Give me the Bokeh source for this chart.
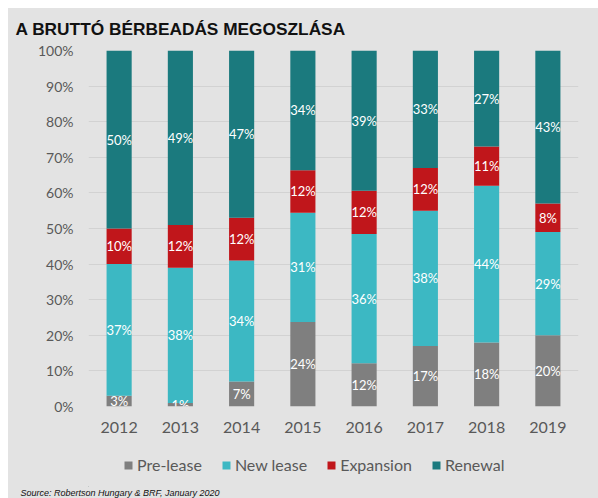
from bokeh.plotting import figure
from bokeh.layouts import column
from bokeh.models import (ColumnDataSource, FactorRange, Range1d, Legend, LegendItem,
                          Title, PrintfTickFormatter, FixedTicker)
from bokeh.core.properties import value
from bokeh.embed import file_html
from bokeh.resources import INLINE

years = ["2012", "2013", "2014", "2015", "2016", "2017", "2018", "2019"]
pre_lease = [3, 1, 7, 24, 12, 17, 18, 20]
new_lease = [37, 38, 34, 31, 36, 38, 44, 29]
expansion = [10, 12, 12, 12, 12, 12, 11, 8]
renewal = [50, 49, 47, 34, 39, 33, 27, 43]
series_names = ["Pre-lease", "New lease", "Expansion", "Renewal"]
colors = ["#7f7f7f", "#3cb8c3", "#c0161b", "#1b7a7e"]
title_text = "A BRUTTÓ BÉRBEADÁS MEGOSZLÁSA"
source_text = "Source: Robertson Hungary & BRF, January 2020"

series = [pre_lease, new_lease, expansion, renewal]
keys = ["pre", "new", "exp", "ren"]
totals = [sum(v) for v in zip(*series)]

data = {"year": years}
for k, s in zip(keys, series):
    data[k] = [v / t * 100 for v, t in zip(s, totals)]
source = ColumnDataSource(data)

# label data (centre of each segment)
lx, ly, lt = [], [], []
for i, y in enumerate(years):
    base = 0.0
    for k, s in zip(keys, series):
        h = data[k][i]
        lx.append(y)
        ly.append(base + h / 2)
        lt.append(f"{s[i]}%")
        base += h
lsource = ColumnDataSource(dict(x=lx, y=ly, t=lt))

BG = "#e3e3e3"
W = 590
top_bg = f"linear-gradient(to bottom, #ffffff 0px, #ffffff 7px, {BG} 7px, {BG} 100%)"
p = figure(width=W, height=443, x_range=FactorRange(*years, range_padding=0),
           y_range=Range1d(0, 100), output_backend="svg", toolbar_location=None,
           min_border_left=80, min_border_right=20, min_border_top=49, min_border_bottom=38,
           styles={"background": top_bg})
p.background_fill_color = BG
p.border_fill_color = BG
p.border_fill_alpha = 0
p.outline_line_color = None

p.title = Title(text=title_text, align="left", offset=-73, vertical_align="top",
                text_font="Liberation Sans", text_font_style="bold",
                text_font_size="17.3px", text_color="#111111", standoff=20)

rs = p.vbar_stack(keys, x="year", width=0.41, color=colors, source=source, line_color=None)

p.text(x="x", y="y", text="t", source=lsource, text_color="white",
       text_font=value("Lato"), text_font_size="13px", text_align="center",
       text_baseline="middle")

p.xgrid.grid_line_color = None
p.ygrid.grid_line_color = "#d2d2d2"
p.ygrid.grid_line_width = 1

p.yaxis.ticker = FixedTicker(ticks=list(range(0, 101, 10)))
p.yaxis.formatter = PrintfTickFormatter(format="%d%%")
for ax in (p.xaxis[0], p.yaxis[0]):
    ax.axis_line_color = None
    ax.major_tick_line_color = None
    ax.minor_tick_line_color = None
    ax.major_tick_out = 0
    ax.major_tick_in = 0
    ax.major_label_text_color = "#595959"
    ax.major_label_text_font = "Lato"
p.yaxis.major_label_text_font_size = "14px"
p.yaxis.major_label_standoff = 15
p.xaxis.major_label_text_font_size = "16px"
p.xaxis.major_label_standoff = 15

# legend + source strip
p2 = figure(width=W, height=54, x_range=Range1d(0, 1), y_range=Range1d(0, 1),
            output_backend="svg", toolbar_location=None, min_border=0,
            x_axis_location=None, y_axis_location=None,
            styles={"background-color": BG})
p2.background_fill_color = BG
p2.border_fill_color = BG
p2.outline_line_color = None
p2.grid.visible = False

# legend proxies (kept outside the visible range)
dummies = [p2.vbar(x=[-10], top=[-10], width=0.1, color=c, line_color=None) for c in colors]

legend = Legend(items=[LegendItem(label=n, renderers=[r]) for n, r in zip(series_names, dummies)],
                orientation="horizontal", location=(35, 12),
                label_text_font="Lato", label_text_font_size="16px",
                label_text_color="#595959", glyph_width=10, glyph_height=10,
                label_standoff=4, spacing=19, padding=0, margin=0,
                background_fill_alpha=0, border_line_color=None)
p2.add_layout(legend, "center")

src = Title(text=source_text, align="left", offset=-68, vertical_align="middle",
            text_font="Liberation Sans", text_font_style="italic", text_font_size="9px",
            text_color="#111111", standoff=0)
p2.add_layout(src, "below")

layout = column(p, p2, spacing=0, margin=(1, 0, 0, 8))
open("out.html", "w").write(file_html(layout, INLINE))
